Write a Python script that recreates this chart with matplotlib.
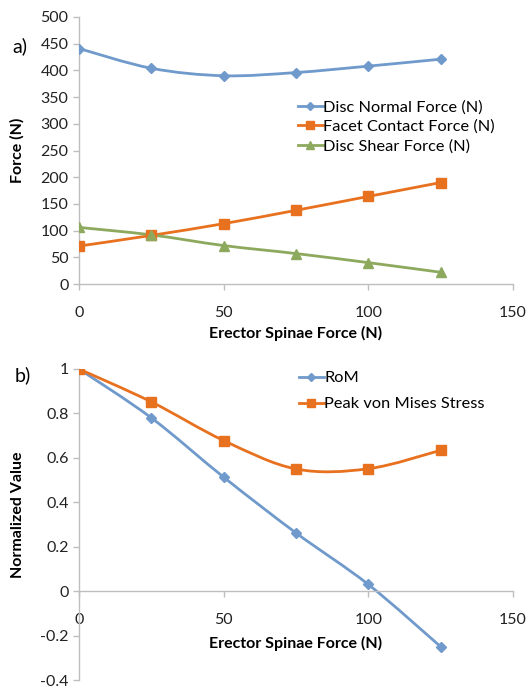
import numpy as np
import matplotlib
matplotlib.use("Agg")
import matplotlib.pyplot as plt
from matplotlib.path import Path
from matplotlib.patches import PathPatch
from matplotlib.lines import Line2D

plt.rcParams['font.family'] = ['Lato', 'DejaVu Sans']

# data
esf = [0, 25, 50, 75, 100, 125]
disc_normal = [441, 404, 390, 396, 408, 421]
facet_contact = [71, 91, 113, 138, 164, 190]
disc_shear = [106, 92, 72, 57, 40, 22]

rom = [1.0, 0.78, 0.513, 0.262, 0.03, -0.25]
peak_vm = [1.0, 0.852, 0.678, 0.55, 0.551, 0.634]

top_yticks = [0, 50, 100, 150, 200, 250, 300, 350, 400, 450, 500]
bot_yticks = [-0.4, -0.2, 0, 0.2, 0.4, 0.6, 0.8, 1]
bot_ylabels = ['-0.4', '-0.2', '0', '0.2', '0.4', '0.6', '0.8', '1']
xticks = [0, 50, 100, 150]

blue = '#6F9ACB'
orange = '#E8711F'
green = '#8DA95E'
axcol = '#BEBEBE'


def smooth_line(ax, x, y, color, lw=2.0):
    # excel style smoothed line (catmull-rom bezier through the points)
    p = np.column_stack([x, y]).astype(float)
    ext = np.vstack([p[0], p, p[-1]])
    verts = [p[0]]
    codes = [Path.MOVETO]
    for i in range(len(p) - 1):
        p0, p1, p2, p3 = ext[i], ext[i + 1], ext[i + 2], ext[i + 3]
        c1 = p1 + (p2 - p0) / 6.0
        c2 = p2 - (p3 - p1) / 6.0
        verts += [c1, c2, p2]
        codes += [Path.CURVE4] * 3
    ax.add_patch(PathPatch(Path(verts, codes), fill=False, edgecolor=color,
                           lw=lw, capstyle='round', zorder=2))


def style_axes(ax):
    for s in ['top', 'right']:
        ax.spines[s].set_visible(False)
    for s in ['left', 'bottom']:
        ax.spines[s].set_color(axcol)
        ax.spines[s].set_linewidth(1.0)
    ax.tick_params(axis='both', colors=axcol, labelcolor='#222222',
                   direction='out', length=4, width=1.0, labelsize=11.5)
    ax.tick_params(axis='x', pad=12)


fig = plt.figure(figsize=(5.28, 6.89), dpi=100)

# ---- a) forces
ax1 = fig.add_axes([79 / 528, 1 - 284 / 689, 434 / 528, 267 / 689])
style_axes(ax1)
series = [(disc_normal, blue, 'D', 5, 'Disc Normal Force (N)'),
          (facet_contact, orange, 's', 7, 'Facet Contact Force (N)'),
          (disc_shear, green, '^', 7, 'Disc Shear Force (N)')]
handles = []
for vals, col, mk, ms, lab in series:
    smooth_line(ax1, esf, vals, col)
    ax1.plot(esf, vals, ls='none', marker=mk, ms=ms, color=col, zorder=3)
    handles.append(Line2D([], [], color=col, lw=2, marker=mk, ms=ms - 1, label=lab))
ax1.set_xlim(0, 150)
ax1.set_ylim(0, 500)
ax1.set_xticks(xticks)
ax1.set_yticks(top_yticks)
ax1.set_xlabel('Erector Spinae Force (N)', fontsize=11.5, fontweight='bold')
ax1.xaxis.set_label_coords(296 / 528, 1 - 326 / 689, transform=fig.transFigure)
ax1.set_ylabel('Force (N)', fontsize=11.5, fontweight='bold')
ax1.yaxis.set_label_coords(25 / 528, 1 - 150 / 689, transform=fig.transFigure)
ax1.legend(handles=handles, loc='upper left', bbox_to_anchor=(298 / 528, 1 - 100 / 689),
           bbox_transform=fig.transFigure, frameon=False, fontsize=11.8,
           handlelength=1.5, handletextpad=0.05, borderpad=0, borderaxespad=0,
           labelspacing=0.3)
fig.text(12 / 528, 1 - 46 / 689, 'a)', fontsize=14, va='center', ha='left')

# ---- b) normalized
ax2 = fig.add_axes([79 / 528, 1 - 680 / 689, 434 / 528, 311 / 689])
style_axes(ax2)
ax2.spines['bottom'].set_position(('data', 0))
handles = []
for vals, col, mk, ms, lab in [(rom, blue, 'D', 5, 'RoM'),
                               (peak_vm, orange, 's', 7, 'Peak von Mises Stress')]:
    smooth_line(ax2, esf, vals, col)
    ax2.plot(esf, vals, ls='none', marker=mk, ms=ms, color=col, zorder=3)
    handles.append(Line2D([], [], color=col, lw=2, marker=mk, ms=ms - 1, label=lab))
ax2.set_xlim(0, 150)
ax2.set_ylim(-0.4, 1)
ax2.set_xticks(xticks)
ax2.set_yticks(bot_yticks)
ax2.set_yticklabels(bot_ylabels)
ax2.set_xlabel('Erector Spinae Force (N)', fontsize=11.5, fontweight='bold')
ax2.xaxis.set_label_coords(296 / 528, 1 - 636 / 689, transform=fig.transFigure)
ax2.set_ylabel('Normalized Value', fontsize=11.5, fontweight='bold')
ax2.yaxis.set_label_coords(25 / 528, 1 - 515 / 689, transform=fig.transFigure)
ax2.legend(handles=handles, loc='upper left', bbox_to_anchor=(299 / 528, 1 - 371 / 689),
           bbox_transform=fig.transFigure, frameon=False, fontsize=11.8,
           handlelength=1.5, handletextpad=0.05, borderpad=0, borderaxespad=0,
           labelspacing=0.7)
fig.text(15 / 528, 1 - 375 / 689, 'b)', fontsize=14, va='center', ha='left')

fig.savefig('out.png', dpi=100)
